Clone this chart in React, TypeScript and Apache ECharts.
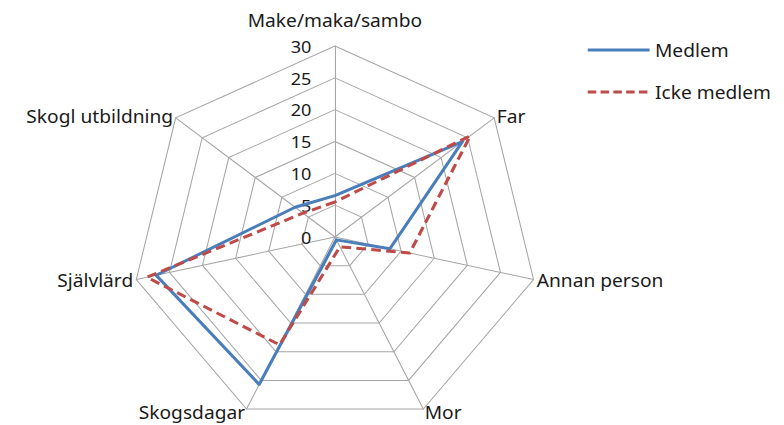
import React, { useEffect, useRef } from "react";
import * as echarts from "echarts";

// Indicators listed counterclockwise from the top (ECharts radar order)
const indicators = ["Make/maka/sambo", "Skogl utbildning", "Självlärd", "Skogsdagar", "Mor", "Annan person", "Far"];
const medlem = [6.5, 7.5, 27, 25.7, 0.5, 8.3, 24];
const ickeMedlem = [5.5, 6, 28.4, 18.8, 1.7, 11.3, 25.5];
const seriesNames = ["Medlem", "Icke medlem"];
const maxValue = 30;

const W = 735;
const H = 425;
const SX = 784 / W;

export default function App() {
  const ref = useRef<HTMLDivElement>(null);
  useEffect(() => {
    if (!ref.current) return;
    const chart = echarts.init(ref.current, undefined, { renderer: "svg" });
    const font = "'Noto Sans', 'Open Sans', sans-serif";
    chart.setOption({
      animation: false,
      backgroundColor: "#ffffff",
      radar: {
        center: [314, 237],
        radius: 191,
        startAngle: 90,
        splitNumber: 6,
        shape: "polygon",
        nameGap: 3,
        axisName: {
          color: "#1a1a1a",
          fontSize: 18,
          fontFamily: font,
          formatter: (name: string) => (name === indicators[0] ? `{top|${name}}` : name),
          rich: {
            top: { color: "#1a1a1a", fontSize: 18, fontFamily: font, padding: [0, 0, 14, 0] },
          },
        },
        splitLine: { lineStyle: { color: "#a6a6a6", width: 1 } },
        splitArea: { show: false },
        axisLine: { lineStyle: { color: "#a6a6a6", width: 1 } },
        axisTick: { show: false },
        axisLabel: { show: false },
        indicator: indicators.map((name, i) => ({
          name,
          min: 0,
          max: maxValue,
          ...(i === 0
            ? { axisLabel: { show: true, color: "#1a1a1a", fontSize: 17, fontFamily: font, margin: 22 } }
            : {}),
        })),
      },
      series: [
        {
          type: "radar",
          symbol: "none",
          data: [
            {
              name: seriesNames[0],
              value: medlem,
              lineStyle: { color: "#4a7ebb", width: 3 },
              itemStyle: { color: "#4a7ebb" },
            },
            {
              name: seriesNames[1],
              value: ickeMedlem,
              lineStyle: { color: "#be4b48", width: 3, type: [9, 5] },
              itemStyle: { color: "#be4b48" },
            },
          ],
        },
      ],
      graphic: [
        { type: "line", shape: { x1: 551, y1: 50, x2: 609, y2: 50 }, style: { stroke: "#4a7ebb", lineWidth: 3 } },
        { type: "text", x: 614, y: 50, style: { text: seriesNames[0], fill: "#1a1a1a", fontSize: 18, fontFamily: font, verticalAlign: "middle" } },
        { type: "line", shape: { x1: 551, y1: 92, x2: 609, y2: 92 }, style: { stroke: "#be4b48", lineWidth: 3, lineDash: [8, 4] } },
        { type: "text", x: 614, y: 92, style: { text: seriesNames[1], fill: "#1a1a1a", fontSize: 18, fontFamily: font, verticalAlign: "middle" } },
      ],
    });
    return () => chart.dispose();
  }, []);
  return (
    <div
      ref={ref}
      style={{
        position: "absolute",
        left: 0,
        top: 0,
        width: W,
        height: H,
        transform: `scaleX(${SX})`,
        transformOrigin: "left top",
      }}
    />
  );
}
